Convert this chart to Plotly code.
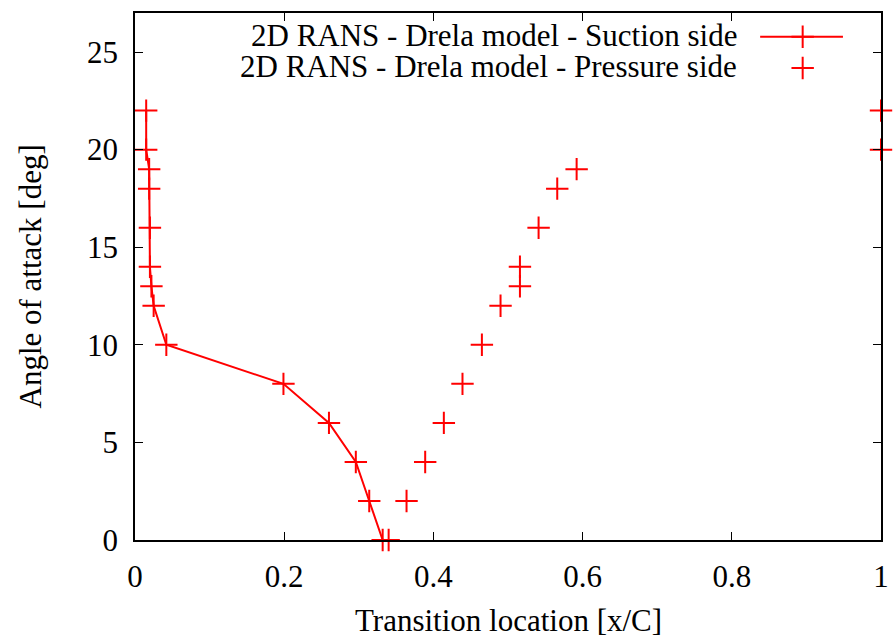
import plotly.graph_objects as go

# Angle of attack [deg]
aoa_suction = [22, 20, 19, 18, 16, 14, 13, 12, 10, 8, 6, 4, 2, 0]
aoa_pressure = [22, 20, 19, 18, 16, 14, 13, 12, 10, 8, 6, 4, 2, 0]

# Transition location [x/C]
xtr_suction = [0.015, 0.015, 0.019, 0.019, 0.020, 0.020, 0.022, 0.025,
               0.042, 0.199, 0.260, 0.296, 0.314, 0.332]
xtr_pressure = [1.0, 1.0, 0.592, 0.566, 0.541, 0.516, 0.516, 0.490,
                0.465, 0.439, 0.414, 0.389, 0.364, 0.340]

label_suction = "2D RANS - Drela model - Suction side"
label_pressure = "2D RANS - Drela model - Pressure side"

x_ticks = [0, 0.2, 0.4, 0.6, 0.8, 1]
x_ticktext = ["0", "0.2", "0.4", "0.6", "0.8", "1"]
y_ticks = [0, 5, 10, 15, 20, 25]

FONT = "Liberation Serif"
RED = "#ff0000"
FS = 31

fig = go.Figure()

fig.add_trace(go.Scatter(
    x=xtr_suction, y=aoa_suction, mode="lines+markers",
    line=dict(color=RED, width=2),
    marker=dict(symbol="cross-thin", size=16, line=dict(color=RED, width=2)),
    cliponaxis=False, showlegend=False, name=label_suction,
))
fig.add_trace(go.Scatter(
    x=xtr_pressure, y=aoa_pressure, mode="markers",
    marker=dict(symbol="cross-thin", size=16, line=dict(color=RED, width=2)),
    cliponaxis=False, showlegend=False, name=label_pressure,
))

# Key samples drawn on an auxiliary unit axis pair (text first, sample after)
key_x_line = [0.838, 0.949]
key_x_mark = [0.895]
key_y = [0.955, 0.8956]
key_text_y = [0.958, 0.898]
fig.add_trace(go.Scatter(
    x=key_x_line, y=[key_y[0], key_y[0]], mode="lines",
    line=dict(color=RED, width=2), xaxis="x2", yaxis="y2",
    showlegend=False, hoverinfo="skip",
))
fig.add_trace(go.Scatter(
    x=key_x_mark, y=[key_y[0]], mode="markers",
    marker=dict(symbol="cross-thin", size=16, line=dict(color=RED, width=2)),
    xaxis="x2", yaxis="y2", showlegend=False, hoverinfo="skip",
))
fig.add_trace(go.Scatter(
    x=key_x_mark, y=[key_y[1]], mode="markers",
    marker=dict(symbol="cross-thin", size=16, line=dict(color=RED, width=2)),
    xaxis="x2", yaxis="y2", showlegend=False, hoverinfo="skip",
))

annotations = [
    dict(text=label_suction, x=0.8097, y=key_text_y[0], xref="paper", yref="paper",
         xanchor="right", yanchor="middle", showarrow=False,
         font=dict(family=FONT, size=FS, color="black")),
    dict(text=label_pressure, x=0.8097, y=key_text_y[1], xref="paper", yref="paper",
         xanchor="right", yanchor="middle", showarrow=False,
         font=dict(family=FONT, size=FS, color="black")),
    dict(text="Transition location [x/C]", x=0.5, y=0, xref="paper", yref="paper",
         xanchor="center", yanchor="middle", yshift=-80, showarrow=False,
         font=dict(family=FONT, size=FS, color="black")),
    dict(text="Angle of attack [deg]", x=0, y=0.5, xref="paper", yref="paper",
         xanchor="center", yanchor="middle", xshift=-105, textangle=-90,
         showarrow=False, font=dict(family=FONT, size=FS, color="black")),
]

axis_common = dict(
    showline=True, linecolor="black", linewidth=1.5, mirror="ticks",
    ticks="inside", ticklen=8, tickwidth=1.2, tickcolor="black",
    showgrid=False, zeroline=False, automargin=False,
    tickfont=dict(family=FONT, size=FS, color="black"),
)

fig.update_layout(
    width=893, height=640,
    margin=dict(l=135, r=12, t=13, b=100, autoexpand=False),
    paper_bgcolor="white", plot_bgcolor="white",
    font=dict(family=FONT, size=FS, color="black"),
    xaxis=dict(range=[0, 1], tickvals=x_ticks, ticktext=x_ticktext,
               ticklabelstandoff=8, **axis_common),
    yaxis=dict(range=[0, 27], tickvals=y_ticks, ticklabelstandoff=9,
               **axis_common),
    xaxis2=dict(range=[0, 1], overlaying="x", visible=False, fixedrange=True),
    yaxis2=dict(range=[0, 1], overlaying="y", visible=False, fixedrange=True),
    annotations=annotations,
)

fig.write_html("out.html")
